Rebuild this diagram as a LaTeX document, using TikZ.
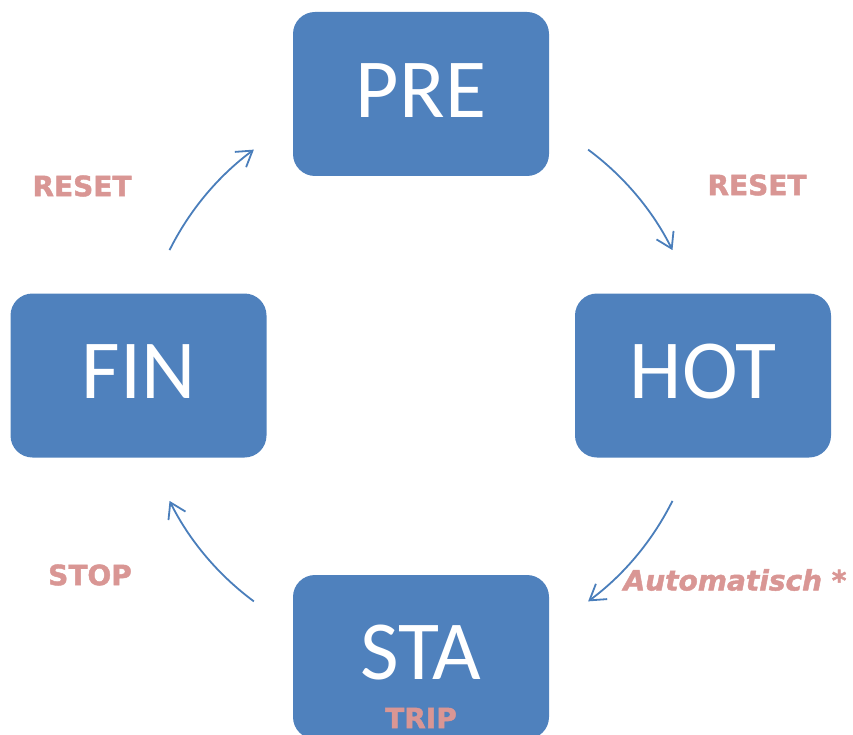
\documentclass[tikz,border=0pt]{standalone}
\usepackage{fontspec}
\usetikzlibrary{arrows.meta,calc}
\newfontfamily\boxfont{Carlito}
\newfontfamily\tagfont{DejaVu Sans}[BoldFeatures={FakeBold=1.6}, BoldItalicFeatures={FakeBold=1.6}]
\definecolor{boxblue}{HTML}{4F81BD}
\definecolor{arcblue}{HTML}{4A7EBB}
\definecolor{tagred}{HTML}{D99694}
\tikzset{
  statebox/.style={fill=boxblue, draw=none, rounded corners=22pt,
    minimum width=256pt, minimum height=164pt, inner sep=0pt},
  statetext/.style={text=white, font=\boxfont\fontsize{84}{84}\selectfont, inner sep=0pt},
  tag/.style={text=tagred, font=\tagfont\bfseries\fontsize{28}{28}\selectfont, inner sep=0pt},
  cyclearrow/.style={draw=arcblue, line width=1.8pt,
    -{Straight Barb[length=15pt,width=19pt,line width=1.8pt]}}
}
\begin{document}
\begin{tikzpicture}[x=1pt,y=1pt]
  \clip (0,0) rectangle (853,-735);
  \useasboundingbox (0,0) rectangle (853,-735);

  % the four states
  \node[statebox] (pre) at (421,-94) {};
  \node[statebox] (hot) at (703,-375.5) {};
  \node[statebox] (fin) at (138.5,-375.5) {};
  \node[statebox] (sta) at (421,-657) {};

  \node[statetext] (preT) at (421,-90.5) {PRE};
  \node[statetext] (hotT) at (703,-372) {HOT};
  \node[statetext] (finT) at (138.5,-372) {FIN};
  \node[statetext] (staT) at (421,-653) {STA};

  % transitions along a circle around the centre
  \coordinate (ctr) at (421,-375.5);
  \coordinate (tr) at ($(ctr)+(53.5:281)$);
  \coordinate (br) at ($(ctr)+(-26.5:281)$);
  \coordinate (bl) at ($(ctr)+(233.5:281)$);
  \coordinate (tl) at ($(ctr)+(153.5:281)$);

  \draw[cyclearrow] (tr) arc[start angle=53.5, end angle=26.5, radius=281];
  \draw[cyclearrow] (br) arc[start angle=-26.5, end angle=-53.5, radius=281];
  \draw[cyclearrow] (bl) arc[start angle=233.5, end angle=206.5, radius=281];
  \draw[cyclearrow] (tl) arc[start angle=153.5, end angle=126.5, radius=281];

  % transition labels
  \node[tag] (resetR) at (757,-185) {RESET};
  \node[tag] (resetL) at (82,-186) {RESET};
  \node[tag] (stop) at (90,-575) {STOP};
  \node[tag, font=\tagfont\bfseries\itshape\fontsize{28}{28}\selectfont] (auto) at (735,-580) {Automatisch *};
  \node[tag] (trip) at (421,-718) {TRIP};
\end{tikzpicture}
\end{document}
